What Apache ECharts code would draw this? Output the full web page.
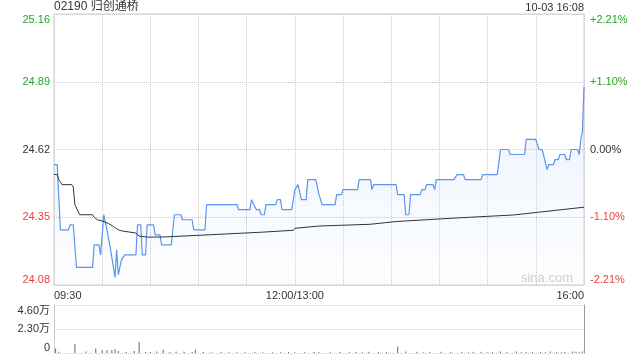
<!DOCTYPE html>
<html><head><meta charset="utf-8">
<script src="https://cdn.jsdelivr.net/npm/echarts@6/dist/echarts.min.js"></script>
<style>html,body{margin:0;padding:0;background:#fff}#c{width:640px;height:360px}</style>
</head><body><div id="c"></div>
<script>
const titleText = '02190 归创通桥';
const stampText = '10-03 16:08';
const priceTicks = ['24.08', '24.35', '24.62', '24.89', '25.16'];
const pctTicks = ['-2.21%', '-1.10%', '0.00%', '+1.10%', '+2.21%'];
const timeLabels = { 0: '09:30', 150: '12:00/13:00', 330: '16:00' };
const volTicks = ['0', '2.30万', '4.60万'];
const priceBase = 24.08, priceStep = 0.27;

const priceMinutes = [0,2,4,9,10,12,14,24,25,28,29,31,33,35,37,38,39,40,42,44,51,52,54,55,57,58,62,63,66,67,73,75,79,80,86,87,94,95,114,115,122,123,124,126,128,129,131,132,138,139,141,142,148,150,152,153,154,157,158,163,165,166,167,175,176,179,180,189,190,197,198,199,213,214,218,219,221,222,228,229,231,232,236,237,238,249,251,255,256,266,267,276,278,283,284,293,294,300,302,304,307,308,311,312,314,315,318,319,321,322,326,327,328,329,330];
const prices = [24.56,24.56,24.30,24.30,24.32,24.32,24.15,24.15,24.24,24.24,24.20,24.36,24.30,24.23,24.15,24.11,24.22,24.12,24.18,24.20,24.20,24.32,24.32,24.20,24.20,24.32,24.32,24.28,24.28,24.24,24.24,24.36,24.36,24.34,24.34,24.30,24.30,24.40,24.40,24.38,24.38,24.42,24.42,24.38,24.38,24.36,24.36,24.40,24.40,24.42,24.42,24.38,24.38,24.46,24.48,24.48,24.42,24.42,24.50,24.50,24.44,24.44,24.40,24.40,24.44,24.44,24.46,24.46,24.50,24.50,24.46,24.48,24.48,24.44,24.44,24.36,24.36,24.44,24.44,24.46,24.46,24.48,24.48,24.46,24.50,24.50,24.52,24.52,24.50,24.50,24.52,24.52,24.62,24.62,24.60,24.60,24.66,24.66,24.62,24.62,24.54,24.56,24.56,24.58,24.58,24.60,24.60,24.58,24.58,24.62,24.62,24.60,24.66,24.69,24.87];

const avgMinutes = [0,2,3,5,11,12,13,16,24,25,27,30,34,37,40,42,51,53,58,66,74,128,149,150,165,197,213,253,286,330];
const avgPrices = [24.52,24.52,24.50,24.48,24.48,24.47,24.40,24.36,24.36,24.35,24.34,24.335,24.325,24.313,24.30,24.296,24.287,24.275,24.271,24.271,24.273,24.29,24.298,24.306,24.315,24.322,24.333,24.348,24.359,24.39];

const volMinutes = [1,3,13,20,26,30,33,36,38,40,45,50,53,57,60,64,68,72,76,81,86,88,93,98,104,109,114,119,125,130,136,141,146,150,156,162,165,172,178,184,188,192,196,202,207,214,219,226,230,234,241,247,254,258,261,266,270,273,278,282,288,291,294,298,303,306,309,313,316,318,323,325,327,329];
const volumes = [4400,1300,8500,1400,4200,2600,2800,2600,3700,1900,1000,1900,10600,1000,1000,1400,3100,900,1400,1200,1000,3100,900,700,900,700,800,700,900,700,800,700,900,800,700,900,1000,700,1200,700,1000,800,1300,1000,1200,6200,1400,1200,700,1200,1300,1000,1300,700,1200,1300,800,1300,1500,1300,1400,700,1300,1200,1300,800,1400,1200,700,1300,1400,1200,800,1500];

const FONT = "'Liberation Sans', 'Noto Sans CJK SC', sans-serif";
const GREEN = '#22a822', RED = '#f03c3c', DARK = '#333';
const tickIdx = v => Math.round(v / priceStep);
const tickColor = v => { const i = tickIdx(v); return i > 2 ? GREEN : (i < 2 ? RED : DARK); };

const chart = echarts.init(document.getElementById('c'), null, { renderer: 'canvas' });
chart.setOption({
  animation: false,
  textStyle: { fontFamily: FONT },
  title: [
    { text: titleText, left: 54, top: 1, padding: 0, textStyle: { fontSize: 12, fontWeight: 'normal', color: '#333', fontFamily: FONT } },
    { text: stampText, right: 56, top: 2, padding: 0, textStyle: { fontSize: 11, fontWeight: 'normal', color: '#333', fontFamily: FONT } }
  ],
  graphic: [
    { type: 'text', right: 67, top: 272, style: { text: 'sina.com', fill: '#cfcfcf', font: '13px ' + FONT } }
  ],
  grid: [
    { left: 54, right: 56, top: 14, height: 271, show: true, borderColor: '#ccc', borderWidth: 1, backgroundColor: 'transparent' },
    { left: 54, right: 56, top: 305, height: 48 }
  ],
  xAxis: [
    { type: 'value', gridIndex: 0, min: 0, max: 330, interval: 30,
      axisLine: { show: false }, axisTick: { show: false },
      splitLine: { show: true, lineStyle: { color: '#ccc', type: 'dotted' } },
      axisLabel: { formatter: v => timeLabels[v] || '', color: '#333', fontSize: 11, margin: 5,
        alignMinLabel: 'left', alignMaxLabel: 'right', showMinLabel: true, showMaxLabel: true } },
    { type: 'value', gridIndex: 1, min: 0, max: 330,
      axisLine: { show: false }, axisTick: { show: false }, splitLine: { show: false }, axisLabel: { show: false } }
  ],
  yAxis: [
    { type: 'value', gridIndex: 0, position: 'left', min: 0, max: 1.08, interval: priceStep,
      axisLine: { show: false }, axisTick: { show: false },
      splitLine: { show: true, lineStyle: { color: '#ccc', type: 'dotted' } },
      axisLabel: { formatter: v => priceTicks[tickIdx(v)], color: v => tickColor(v), fontSize: 11, margin: 4,
        verticalAlignMinLabel: 'bottom', verticalAlignMaxLabel: 'top' } },
    { type: 'value', gridIndex: 0, position: 'right', min: 0, max: 1.08, interval: priceStep,
      axisLine: { show: false }, axisTick: { show: false }, splitLine: { show: false },
      axisLabel: { formatter: v => pctTicks[tickIdx(v)], color: v => tickColor(v), fontSize: 11, margin: 6,
        verticalAlignMinLabel: 'bottom', verticalAlignMaxLabel: 'top' } },
    { type: 'value', gridIndex: 1, position: 'left', min: 0, max: 46000, interval: 23000,
      axisLine: { show: true, lineStyle: { color: '#ccc' } }, axisTick: { show: false },
      splitLine: { show: true, lineStyle: { color: '#ccc', type: 'dotted' } },
      axisLabel: { formatter: v => volTicks[Math.round(v / 23000)], color: '#333', fontSize: 11, margin: 4,
        verticalAlignMinLabel: 'bottom', verticalAlignMaxLabel: 'top' } },
    { type: 'value', gridIndex: 1, position: 'right', min: 0, max: 46000, interval: 23000,
      axisLine: { show: true, lineStyle: { color: '#999' } }, axisTick: { show: false },
      splitLine: { show: false }, axisLabel: { show: false } }
  ],
  series: [
    { type: 'line', xAxisIndex: 0, yAxisIndex: 0, showSymbol: false, z: 3,
      data: priceMinutes.map((m, i) => [m, prices[i] - priceBase]),
      lineStyle: { color: '#5a96ef', width: 1.2 },
      areaStyle: { origin: 'start', color: new echarts.graphic.LinearGradient(0, 0, 0, 1, [
        { offset: 0, color: 'rgba(90,150,239,0.16)' }, { offset: 1, color: 'rgba(90,150,239,0.02)' }]) } },
    { type: 'line', xAxisIndex: 0, yAxisIndex: 0, showSymbol: false, z: 4,
      data: avgMinutes.map((m, i) => [m, avgPrices[i] - priceBase]),
      lineStyle: { color: '#333', width: 1 } },
    { type: 'bar', xAxisIndex: 1, yAxisIndex: 2, barWidth: 1,
      data: volMinutes.map((m, i) => [m, volumes[i]]),
      itemStyle: { color: '#666' } }
  ]
});
</script>
</body></html>
